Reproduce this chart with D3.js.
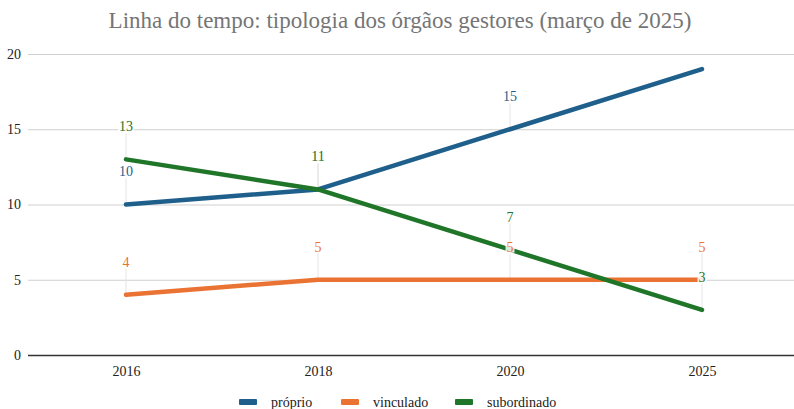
<!DOCTYPE html>
<html>
<head>
<meta charset="utf-8">
<script src="https://cdn.jsdelivr.net/npm/d3@7"></script>
<style>
  html, body { margin: 0; padding: 0; background: #fff; }
  svg { display: block; }
</style>
</head>
<body>
<svg id="chart" width="794" height="409"></svg>
<script>
// Anos (eixo X)
const years = ["2016", "2018", "2020", "2025"];
// Séries
const seriesNames = ["próprio", "vinculado", "subordinado"];
const proprio = [10, 11, 15, 19];
const vinculado = [4, 5, 5, 5];
const subordinado = [13, 11, 7, 3];
const yTicks = [0, 5, 10, 15, 20];
const colors = ["#1f5f8b", "#ea7232", "#1f7528"];

const title = "Linha do tempo: tipologia dos órgãos gestores (março de 2025)";
const FONT = "Liberation Serif";

const svg = d3.select("#chart").attr("font-family", FONT);
const plot = { left: 28, right: 794, top: 54, bottom: 355 };

const x = d3.scalePoint().domain(years).range([30, 798]).padding(0.5);
const y = d3.scaleLinear().domain([0, 20]).range([plot.bottom, plot.top]);

const series = [proprio, vinculado, subordinado].map((vals, i) => ({
  name: seriesNames[i],
  color: colors[i],
  values: vals.map((v, j) => ({ year: years[j], value: v }))
}));

// Título
svg.append("text")
  .attr("x", 400).attr("y", 28)
  .attr("text-anchor", "middle")
  .attr("font-family", FONT)
  .attr("font-size", 23)
  .attr("fill", "#757575")
  .text(title);

// Grade horizontal e rótulos do eixo Y
const yAxis = d3.axisLeft(y).tickValues(yTicks).tickSize(-(plot.right - plot.left)).tickPadding(7);
const gy = svg.append("g").attr("transform", `translate(${plot.left},0)`).call(yAxis)
  .attr("font-family", FONT).attr("font-size", 14);
gy.select(".domain").remove();
gy.selectAll(".tick line")
  .attr("stroke", d => d === 0 ? "#333" : "#cfcfcf")
  .attr("stroke-width", d => d === 0 ? 1.5 : 1);
gy.selectAll(".tick text").attr("fill", "#222");

// Eixo X (apenas rótulos)
const xAxis = d3.axisBottom(x).tickSize(0).tickPadding(11);
const gx = svg.append("g").attr("transform", `translate(0,${plot.bottom})`).call(xAxis)
  .attr("font-family", FONT).attr("font-size", 14);
gx.select(".domain").remove();
gx.selectAll(".tick text").attr("fill", "#222");

// Rótulos: posições visíveis (acima da área do gráfico são omitidos)
const labelOffset = 33;
const labels = [];
series.forEach(s => s.values.forEach(p => {
  const py = y(p.value);
  const ly = py - labelOffset;
  if (ly - 6 >= plot.top) labels.push({ s, p, px: x(p.year), py, ly });
}));

// Linhas-guia dos rótulos
svg.append("g").selectAll("line").data(labels).join("line")
  .attr("x1", d => d.px).attr("x2", d => d.px)
  .attr("y1", d => d.ly + 7).attr("y2", d => d.py)
  .attr("stroke", "#e4e4e4").attr("stroke-width", 1);

// Linhas das séries
const line = d3.line().x(d => x(d.year)).y(d => y(d.value));
svg.append("g").selectAll("path").data(series).join("path")
  .attr("d", d => line(d.values))
  .attr("fill", "none")
  .attr("stroke", d => d.color)
  .attr("stroke-width", 4.5)
  .attr("stroke-linecap", "round")
  .attr("stroke-linejoin", "round");

// Rótulos de valor com fundo branco
const lg = svg.append("g").selectAll("g").data(labels).join("g")
  .attr("transform", d => `translate(${d.px},${d.ly})`);
lg.append("text")
  .attr("text-anchor", "middle")
  .attr("dy", "0.35em")
  .attr("font-family", FONT)
  .attr("font-size", 14)
  .attr("fill", d => d.s.color)
  .text(d => d.p.value)
  .each(function () {
    const b = this.getBBox();
    d3.select(this.parentNode).insert("rect", "text")
      .attr("x", b.x - 1).attr("y", b.y + 2)
      .attr("width", b.width + 2).attr("height", b.height - 4)
      .attr("fill", "#fff").attr("fill-opacity", 0.85);
  });

// Legenda
const legendX = [239, 341, 455];
const leg = svg.append("g").selectAll("g").data(series).join("g")
  .attr("transform", (d, i) => `translate(${legendX[i]},402)`);
leg.append("rect")
  .attr("x", 0).attr("y", -3).attr("width", 18).attr("height", 6)
  .attr("rx", 1)
  .attr("fill", d => d.color);
leg.append("text")
  .attr("x", 32).attr("y", 0)
  .attr("dy", "0.35em")
  .attr("font-family", FONT)
  .attr("font-size", 14)
  .attr("fill", "#222")
  .text(d => d.name);
</script>
</body>
</html>
